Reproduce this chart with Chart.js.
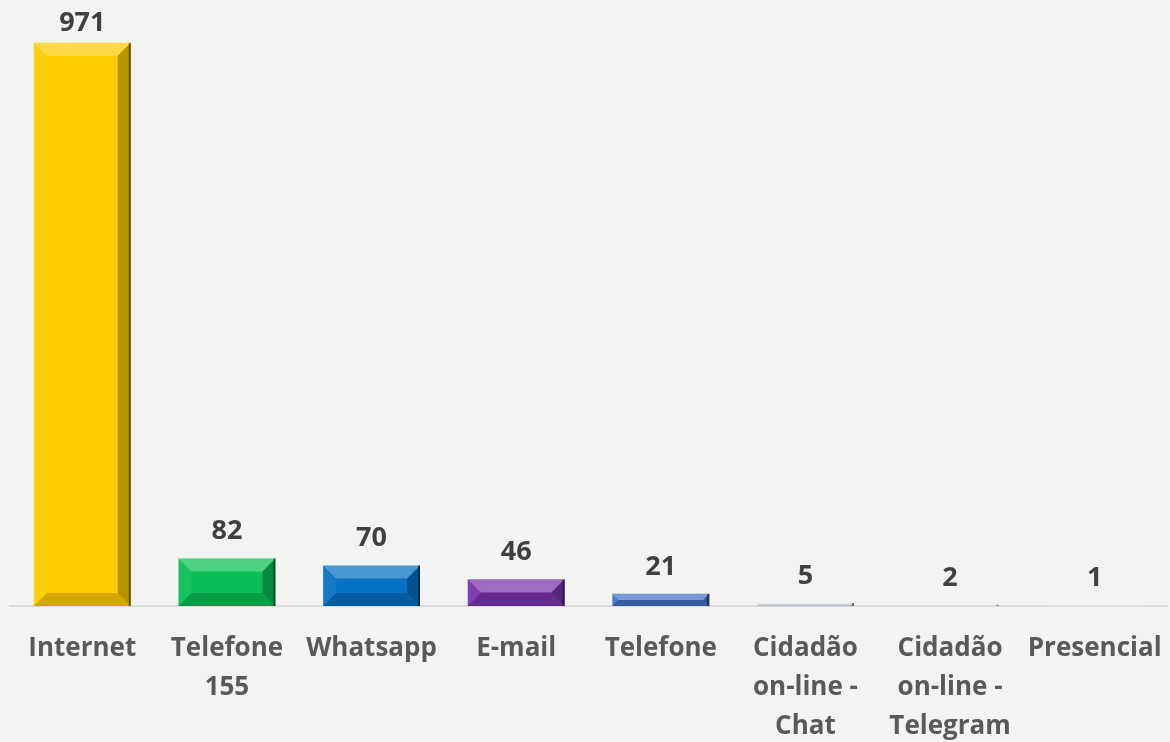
<!DOCTYPE html>
<html>
<head>
<meta charset="utf-8">
<script src="https://cdn.jsdelivr.net/npm/chart.js@4"></script>
<style>
  html, body { margin: 0; padding: 0; background: #f3f3f2; }
  #wrap { width: 1170px; height: 742px; }
</style>
</head>
<body>
<div id="wrap"><canvas id="chart" width="1170" height="742"></canvas></div>
<script>
// ==========================================
// DATA
// ==========================================

// Channel names (multi-line labels as in the original)
const channels = [
  "Internet",
  ["Telefone", "155"],
  "Whatsapp",
  "E-mail",
  "Telefone",
  ["Cidadão", "on-line -", "Chat"],
  ["Cidadão", "on-line -", "Telegram"],
  "Presencial",
];

// Number of requests per channel
const requests = [971, 82, 70, 46, 21, 5, 2, 1];

// One colour per bar
const barColors = [
  "#ffcc00", "#0abf55", "#0672c4", "#7a34ad",
  "#4472c4", "#dbe2ee", "#ebebeb", "#ededed",
];

const labelFont = "'Open Sans', 'Noto Sans', sans-serif";

// ==========================================
// PLUGINS
// ==========================================

/**
 * Draws the bevel (light top/left, dark right/bottom) over every bar.
 */
const bevelPlugin = {
  id: "bevel",
  afterDatasetsDraw(chart) {
    const ctx = chart.ctx;
    chart.getDatasetMeta(0).data.forEach((bar) => {
      const l = bar.x - bar.width / 2;
      const r = bar.x + bar.width / 2;
      const t = bar.y;
      const bt = bar.base;
      const b = Math.min(13, (bt - t) / 2, bar.width / 2);
      if (b <= 0.5) return;

      const poly = (pts, fill) => {
        ctx.beginPath();
        ctx.moveTo(pts[0][0], pts[0][1]);
        pts.slice(1).forEach((p) => ctx.lineTo(p[0], p[1]));
        ctx.closePath();
        ctx.fillStyle = fill;
        ctx.fill();
      };

      ctx.save();
      poly([[l, t], [r, t], [r - b, t + b], [l + b, t + b]], "rgba(255,255,255,0.28)");
      poly([[l, t], [l + b, t + b], [l + b, bt - b], [l, bt]], "rgba(255,255,255,0.06)");
      poly([[r, t], [r, bt], [r - b, bt - b], [r - b, t + b]], "rgba(0,0,0,0.28)");
      poly([[l, bt], [r, bt], [r - b, bt - b], [l + b, bt - b]], "rgba(0,0,0,0.18)");
      // thin dark edge on the right
      ctx.fillStyle = "rgba(0,0,0,0.45)";
      ctx.fillRect(r - 2, t, 2, bt - t);
      ctx.restore();
    });
  },
};

/**
 * Writes the value above each bar (kept inside the canvas for the tall bar).
 */
const valueLabelPlugin = {
  id: "valueLabels",
  afterDatasetsDraw(chart) {
    const ctx = chart.ctx;
    const values = chart.data.datasets[0].data;
    ctx.save();
    ctx.font = `700 27px ${labelFont}`;
    ctx.fillStyle = "#404040";
    ctx.textAlign = "center";
    ctx.textBaseline = "alphabetic";
    chart.getDatasetMeta(0).data.forEach((bar, i) => {
      const y = Math.max(bar.y - 19, 31);
      ctx.fillText(String(values[i]), bar.x, y);
    });
    ctx.restore();
  },
};

// ==========================================
// CHART
// ==========================================

const chart = new Chart(document.getElementById("chart"), {
  type: "bar",
  data: {
    labels: channels,
    datasets: [
      {
        data: requests,
        backgroundColor: barColors,
        borderWidth: 0,
        categoryPercentage: 1,
        barPercentage: 0.67,
      },
    ],
  },
  options: {
    responsive: false,
    animation: false,
    layout: { padding: { top: 26, left: 10, right: 3, bottom: 0 } },
    plugins: {
      legend: { display: false },
      tooltip: { enabled: false },
    },
    scales: {
      x: {
        grid: { display: false, drawTicks: false },
        border: { display: true, color: "#d9d9d9", width: 2 },
        ticks: {
          color: "#595959",
          padding: 23,
          maxRotation: 0,
          autoSkip: false,
          font: { family: labelFont, size: 26, weight: "700", lineHeight: 1.5 },
        },
        afterFit(scale) {
          // fixed axis band, and no extra side padding for the wide end labels
          scale.height = 136;
          scale.paddingLeft = 0;
          scale.paddingRight = 0;
        },
      },
      y: {
        display: false,
        min: 0,
        max: 1000,
      },
    },
  },
  plugins: [bevelPlugin, valueLabelPlugin],
});
</script>
</body>
</html>
